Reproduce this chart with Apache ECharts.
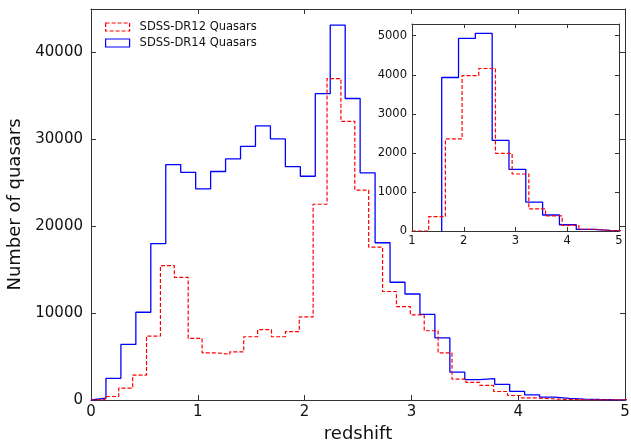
<!DOCTYPE html>
<html>
<head>
<meta charset="utf-8">
<script src="https://cdn.jsdelivr.net/npm/echarts@6/dist/echarts.min.js"></script>
<style>
  html, body { margin: 0; padding: 0; background: #fff; }
</style>
</head>
<body>
<div id="container" style="width: 631px; height: 442px;"></div>
<script>
// main histogram (redshift 0-5)
var dr14MainStart = 0, dr14MainWidth = 0.14;
var dr14Main = [200, 2500, 6400, 10100, 18000, 27100, 26200, 24300, 26300, 27750,
  29200, 31550, 30050, 26850, 25750, 35250, 43150, 34700, 26150, 18100,
  13550, 12200, 9850, 7150, 3200, 2350, 2450, 1800, 1000, 600,
  330, 180, 100, 60, 30, 20];
var dr12MainStart = 0, dr12MainWidth = 0.13;
var dr12Main = [50, 400, 1370, 2870, 7360, 15470, 14120, 7090, 5430, 5270,
  5540, 7280, 8090, 7280, 7860, 9560, 22530, 36990, 32070, 24160,
  17590, 12490, 10750, 9790, 7970, 5420, 2410, 2030, 1680, 980,
  520, 250, 150, 80, 40, 20, 10, 5, 5];

// inset histogram (redshift 1-5)
var dr14InsetStart = 1.574, dr14InsetWidth = 0.325;
var dr14Inset = [3930, 4930, 5060, 2320, 1580, 740, 410, 160, 40, 15, 5];
var dr12InsetStart = 1.0, dr12InsetWidth = 0.3225;
var dr12Inset = [0, 370, 2360, 3980, 4160, 1990, 1460, 565, 385, 145, 45, 10, 5];

var legendNames = ['SDSS-DR12 Quasars', 'SDSS-DR14 Quasars'];

// turn bin values into step outline points
function steps(start, width, vals) {
  var pts = [[start, 0]];
  for (var i = 0; i < vals.length; i++) {
    pts.push([start + i * width, vals[i]]);
    pts.push([start + (i + 1) * width, vals[i]]);
  }
  return pts;
}

var font = 'DejaVu Sans';
var axisColor = '#333';

function plain(v) { return String(v); }

function xAx(grid, pos, min, max, labels, size) {
  return {
    type: 'value', gridIndex: grid, position: pos, min: min, max: max, interval: 1,
    axisLine: { show: true, onZero: false, lineStyle: { color: axisColor, width: 1 } },
    axisTick: { show: true, inside: true, length: grid === 0 ? 5 : 4, lineStyle: { color: axisColor } },
    axisLabel: { show: labels, color: '#111', fontFamily: font, fontSize: size, margin: grid === 0 ? 5 : 4, formatter: plain },
    splitLine: { show: false }
  };
}
function yAx(grid, pos, max, interval, labels, size) {
  return {
    type: 'value', gridIndex: grid, position: pos, min: 0, max: max, interval: interval,
    axisLine: { show: true, onZero: false, lineStyle: { color: axisColor, width: 1 } },
    axisTick: { show: true, inside: true, length: grid === 0 ? 5 : 4, lineStyle: { color: axisColor } },
    axisLabel: { show: labels, showMaxLabel: false, color: '#111', fontFamily: font, fontSize: size, margin: grid === 0 ? 8 : 5, formatter: plain },
    splitLine: { show: false }
  };
}

var chart = echarts.init(document.getElementById('container'), null, { renderer: 'canvas' });

var xAxes = [
  xAx(0, 'bottom', 0, 5, true, 15),
  xAx(0, 'top', 0, 5, false, 15),
  xAx(1, 'bottom', 1, 5, true, 11.5),
  xAx(1, 'top', 1, 5, false, 11.5)
];
xAxes[0].name = 'redshift';
xAxes[0].nameLocation = 'middle';
xAxes[0].nameGap = 25;
xAxes[0].nameTextStyle = { color: '#111', fontFamily: font, fontSize: 18 };

var yAxes = [
  yAx(0, 'left', 45000, 10000, true, 15),
  yAx(0, 'right', 45000, 10000, false, 15),
  yAx(1, 'left', 5300, 1000, true, 11.5),
  yAx(1, 'right', 5300, 1000, false, 11.5)
];
yAxes[0].name = 'Number of quasars';
yAxes[0].nameLocation = 'middle';
yAxes[0].nameGap = 63;
yAxes[0].nameTextStyle = { color: '#111', fontFamily: font, fontSize: 18 };

var red = '#ff0000', blue = '#0000ff';

var option = {
  animation: false,
  backgroundColor: '#fff',
  grid: [
    { left: 91, right: 6, top: 9, bottom: 42, outerBoundsMode: 'none', containLabel: false },
    { left: 412, right: 12, top: 24, bottom: 211, outerBoundsMode: 'none', containLabel: false }
  ],
  legend: {
    orient: 'vertical', left: 100, top: 16, itemWidth: 24, itemHeight: 8, itemGap: 4,
    selectedMode: false,
    textStyle: { color: '#111', fontFamily: font, fontSize: 11.5, padding: [0, 0, 0, 5] },
    data: [
      { name: legendNames[0], icon: 'rect', itemStyle: { color: 'rgba(0,0,0,0)', borderColor: red, borderWidth: 1.2, borderType: [4, 2] } },
      { name: legendNames[1], icon: 'rect', itemStyle: { color: 'rgba(0,0,0,0)', borderColor: blue, borderWidth: 1.2, borderType: 'solid' } }
    ]
  },
  xAxis: xAxes,
  yAxis: yAxes,
  series: [
    { name: legendNames[1], type: 'line', xAxisIndex: 0, yAxisIndex: 0, symbol: 'none',
      lineStyle: { color: blue, width: 1.3 }, itemStyle: { color: blue },
      data: steps(dr14MainStart, dr14MainWidth, dr14Main) },
    { name: legendNames[0], type: 'line', xAxisIndex: 0, yAxisIndex: 0, symbol: 'none',
      lineStyle: { color: red, width: 1.2, type: [4, 2] }, itemStyle: { color: red },
      data: steps(dr12MainStart, dr12MainWidth, dr12Main) },
    { name: legendNames[1], type: 'line', xAxisIndex: 2, yAxisIndex: 2, symbol: 'none',
      lineStyle: { color: blue, width: 1.3 }, itemStyle: { color: blue },
      data: steps(dr14InsetStart, dr14InsetWidth, dr14Inset) },
    { name: legendNames[0], type: 'line', xAxisIndex: 2, yAxisIndex: 2, symbol: 'none',
      lineStyle: { color: red, width: 1.2, type: [4, 2] }, itemStyle: { color: red },
      data: steps(dr12InsetStart, dr12InsetWidth, dr12Inset) }
  ]
};

chart.setOption(option);
</script>
</body>
</html>
